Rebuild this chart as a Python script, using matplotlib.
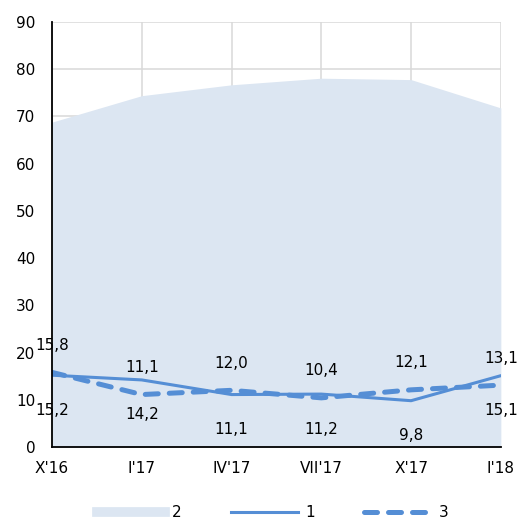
import matplotlib
matplotlib.use("Agg")
import matplotlib.pyplot as plt
from matplotlib.lines import Line2D

categories = ["X'16", "I'17", "IV'17", "VII'17", "X'17", "I'18"]
series2 = [68.8, 74.4, 76.7, 78.1, 77.8, 71.8]
series1 = [15.2, 14.2, 11.1, 11.2, 9.8, 15.1]
series3 = [15.8, 11.1, 12.0, 10.4, 12.1, 13.1]
yticks = [0, 10, 20, 30, 40, 50, 60, 70, 80, 90]

AREA = "#dce6f2"
LINE = "#558ed5"
FS = 11

def fmt(v):
    return f"{v:.1f}".replace(".", ",")

fig = plt.figure(figsize=(5.25, 5.24), dpi=100)
ax = fig.add_axes([0.099, 0.147, 0.855, 0.811])
x = list(range(len(categories)))

ax.fill_between(x, 0, series2, color=AREA, lw=0, zorder=2)
ax.plot(x, series1, color=LINE, lw=2.2, zorder=4, solid_capstyle="round")
ax.plot(x, series3, color=LINE, lw=3.6, zorder=5, dashes=(2.6, 2.2),
        dash_capstyle="round")

for xi, v in zip(x, series3):
    ax.annotate(fmt(v), (xi, v), xytext=(0, 27), textcoords="offset pixels",
                ha="center", va="center", fontsize=FS, zorder=6, annotation_clip=False)
for xi, v in zip(x, series1):
    ax.annotate(fmt(v), (xi, v), xytext=(0, -35), textcoords="offset pixels",
                ha="center", va="center", fontsize=FS, zorder=6, annotation_clip=False)

ax.set_xlim(0, len(categories) - 1)
ax.set_ylim(0, 90)
ax.set_xticks(x)
ax.set_xticklabels(categories, fontsize=FS)
ax.set_yticks(yticks)
ax.set_yticklabels([str(t) for t in yticks], fontsize=FS)
ax.tick_params(axis="x", length=0, pad=10)
ax.tick_params(axis="y", length=0, pad=12)
ax.grid(True, color="#d9d9d9", lw=1.1, zorder=1)
ax.set_axisbelow(True)
for s in ["top", "right"]:
    ax.spines[s].set_visible(False)
for s in ["left", "bottom"]:
    ax.spines[s].set_color("black")
    ax.spines[s].set_linewidth(1.3)
    ax.spines[s].set_zorder(7)

handles = [
    Line2D([0], [0], color=AREA, lw=7),
    Line2D([0], [0], color=LINE, lw=2.2),
    Line2D([0], [0], color=LINE, lw=3.6, dashes=(2.6, 2.2), dash_capstyle="round"),
]
fig.legend(handles, ["2", "1", "3"], loc="center", bbox_to_anchor=(0.52, 0.021),
           ncol=3, frameon=False, fontsize=FS, handlelength=4.4,
           handletextpad=0.5, columnspacing=3.2)

fig.savefig("out.png", dpi=100)
